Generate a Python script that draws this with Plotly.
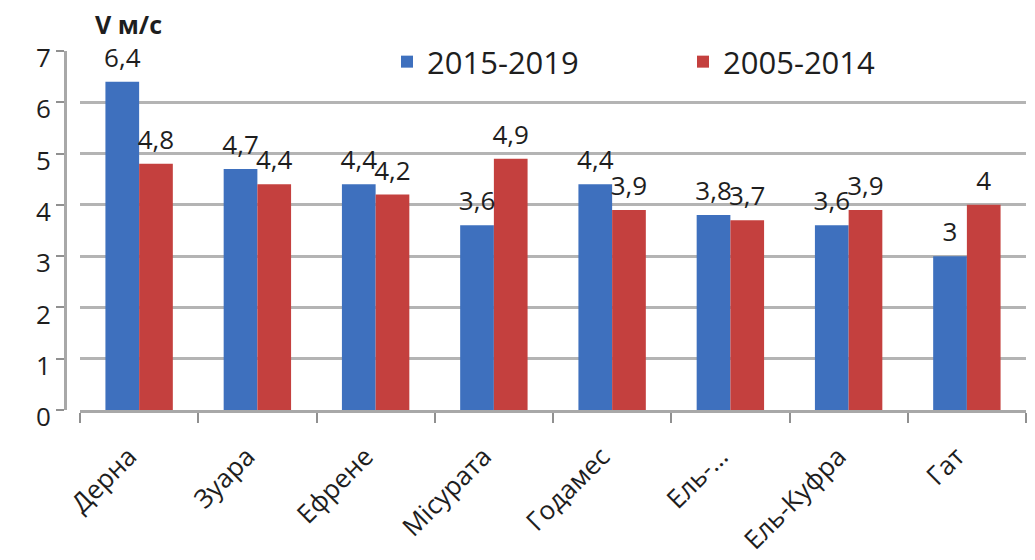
import plotly.graph_objects as go

categories = ["Дерна", "Зуара", "Ефрене", "Місурата", "Годамес", "Ель-…", "Ель-Куфра", "Гат"]
series_names = ["2015-2019", "2005-2014"]
values_2015_2019 = [6.4, 4.7, 4.4, 3.6, 4.4, 3.8, 3.6, 3.0]
values_2005_2014 = [4.8, 4.4, 4.2, 4.9, 3.9, 3.7, 3.9, 4.0]
y_ticks = [0, 1, 2, 3, 4, 5, 6, 7]
y_title = "V м/с"

colors = ["#3E70BE", "#C4403E"]
FONT = "Open Sans"
TXT = "#1e1e1e"


def fmt(v):
    s = ("%g" % v)
    return s.replace(".", ",")


fig = go.Figure()
for i, (name, vals, col) in enumerate(zip(series_names, [values_2015_2019, values_2005_2014], colors)):
    fig.add_trace(go.Bar(
        x=categories, y=vals, name=name,
        marker=dict(color=col, line=dict(width=0)),
        offsetgroup=str(i), alignmentgroup="a",
    ))
for i, vals in enumerate([values_2015_2019, values_2005_2014]):
    fig.add_trace(go.Scatter(
        x=categories, y=vals, mode="markers+text",
        marker=dict(size=12, opacity=0),
        text=[fmt(v) for v in vals], textposition="top center",
        textfont=dict(size=26, color=TXT, family=FONT),
        offsetgroup=str(i), alignmentgroup="a",
        showlegend=False, hoverinfo="skip", cliponaxis=False,
    ))

W, H = 1035, 560
ml, mr, mt, mb = 20, 9, 51, 150
pw = W - ml - mr
ph = H - mt - mb

fig.update_layout(
    width=W, height=H,
    margin=dict(l=ml, r=mr, t=mt, b=mb, autoexpand=False),
    paper_bgcolor="white", plot_bgcolor="white",
    barmode="group", bargap=0.43, bargroupgap=0.0,
    scattermode="group", scattergap=0.43,
    font=dict(family=FONT, size=20, color=TXT),
    showlegend=True,
    legend=dict(orientation="h", x=(387 - ml) / pw, y=1 - (62 - mt) / ph,
                xanchor="left", yanchor="middle",
                font=dict(size=31, color=TXT, family=FONT),
                bgcolor="rgba(255,255,255,0)", entrywidth=251, entrywidthmode="pixels",
                itemsizing="constant"),
    xaxis=dict(domain=[(80 - ml) / pw, 1.0], showgrid=False, showline=True,
               linecolor="#a8a8a8", linewidth=3, ticks="outside", tickson="boundaries",
               ticklen=10, tickwidth=2, tickcolor="#909090", tickangle=-45,
               ticklabelstandoff=18, ticklabelshift=-10,
               tickfont=dict(size=26, color=TXT, family=FONT)),
    yaxis=dict(range=[0, 7], tickvals=y_ticks, anchor="free", position=(65 - ml) / pw,
               showgrid=True, gridcolor="#b4b4b4", gridwidth=3,
               showline=True, linecolor="#a8a8a8", linewidth=3,
               ticks="outside", ticklen=8, tickwidth=2, tickcolor="#909090",
               ticklabelshift=7,
               tickfont=dict(size=26, color=TXT, family=FONT), zeroline=False),
    annotations=[dict(text="<b>" + y_title + "</b>", xref="paper", yref="paper",
                      x=(93 - ml) / pw, y=1.0, xanchor="left", yanchor="bottom",
                      yshift=8, showarrow=False,
                      font=dict(size=25, color=TXT, family=FONT))],
)

fig.write_html("out.html")
